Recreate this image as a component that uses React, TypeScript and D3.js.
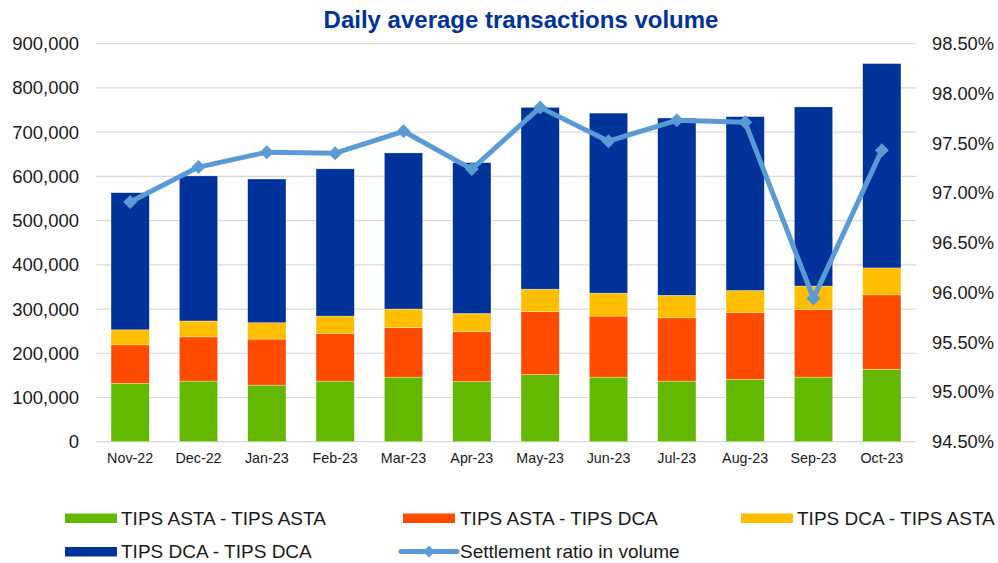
import React from "react";
import * as d3 from "d3";

const categories = ["Nov-22","Dec-22","Jan-23","Feb-23","Mar-23","Apr-23","May-23","Jun-23","Jul-23","Aug-23","Sep-23","Oct-23"];
const astaAsta = [132000,137000,128000,137000,146000,136000,152000,146000,137000,141000,146000,164000];
const astaDca = [87000,100000,104000,107000,112000,113000,142000,138000,143000,151000,153000,168000];
const dcaAsta = [34000,36000,37000,40000,42000,41000,51000,52000,51000,50000,53000,61000];
const dcaDca = [310000,328000,325000,333000,353000,341000,411000,407000,401000,393000,405000,462000];
const settlementRatio = [96.91,97.26,97.41,97.40,97.62,97.24,97.86,97.52,97.73,97.71,95.94,97.43];
const leftTicks = [0,100000,200000,300000,400000,500000,600000,700000,800000,900000];
const rightTicks = [94.5,95,95.5,96,96.5,97,97.5,98,98.5];

const seriesNames = ["TIPS ASTA - TIPS ASTA","TIPS ASTA - TIPS DCA","TIPS DCA - TIPS ASTA","TIPS DCA - TIPS DCA"];
const seriesColors = ["#65B800","#FF4B00","#FFBF00","#003399"];
const lineName = "Settlement ratio in volume";
const lineColor = "#5B9BD5";

export default function App() {
  const W = 998, H = 563;
  const x0 = 96, x1 = 916, yTop = 43.7, yBot = 441.7;
  const x = d3.scaleBand<string>().domain(categories).range([x0, x1]).paddingInner(0.44).paddingOuter(0.22);
  const yL = d3.scaleLinear().domain([0, 900000]).range([yBot, yTop]);
  const yR = d3.scaleLinear().domain([94.5, 98.5]).range([yBot, yTop]);

  const rows = categories.map((c, i) => ({ cat: c, s0: astaAsta[i], s1: astaDca[i], s2: dcaAsta[i], s3: dcaDca[i] }));
  const stack = d3.stack<any>().keys(["s0","s1","s2","s3"])(rows);

  const line = d3.line<number>()
    .x((_, i) => (x(categories[i]) as number) + x.bandwidth() / 2)
    .y(d => yR(d));

  const font = "Arial, 'Liberation Sans', sans-serif";
  const diamond = (cx: number, cy: number, r: number) => `M${cx},${cy - r}L${cx + r},${cy}L${cx},${cy + r}L${cx - r},${cy}Z`;

  const legendRow1 = 518, legendRow2 = 551.5;
  const legendItems = [
    { name: seriesNames[0], color: seriesColors[0], sx: 65, tx: 121, y: legendRow1, type: "rect" },
    { name: seriesNames[1], color: seriesColors[1], sx: 403, tx: 460, y: legendRow1, type: "rect" },
    { name: seriesNames[2], color: seriesColors[2], sx: 741, tx: 797, y: legendRow1, type: "rect" },
    { name: seriesNames[3], color: seriesColors[3], sx: 65, tx: 121, y: legendRow2, type: "rect" },
    { name: lineName, color: lineColor, sx: 401, tx: 460, y: legendRow2, type: "line" },
  ];

  return (
    <svg width={W} height={H} style={{ display: "block", position: "absolute", left: 0, top: 0 }} fontFamily={font}>
      <rect width={W} height={H} fill="#fff" />
      <text x={521} y={28} textAnchor="middle" fontSize={24} fontWeight="bold" fill="#003399">Daily average transactions volume</text>
      {leftTicks.map(t => (
        <g key={t}>
          <line x1={x0} x2={x1} y1={yL(t)} y2={yL(t)} stroke="#D9D9D9" strokeWidth={1.2} />
          <text x={79} y={yL(t)} dy="0.35em" textAnchor="end" fontSize={18.5} fill="#1a1a1a">{d3.format(",")(t)}</text>
        </g>
      ))}
      {rightTicks.map(t => (
        <text key={t} x={932} y={yR(t)} dy="0.35em" textAnchor="start" fontSize={18.3} fill="#1a1a1a">{d3.format(".2f")(t) + "%"}</text>
      ))}
      {stack.map((s, si) => (
        <g key={si} fill={seriesColors[si]}>
          {s.map((d, i) => (
            <rect key={i} x={x(categories[i])} width={x.bandwidth()} y={yL(d[1])} height={yL(d[0]) - yL(d[1])} stroke="#ffffff" strokeWidth={0.5} strokeOpacity={0.6} />
          ))}
        </g>
      ))}
      {categories.map(c => (
        <text key={c} x={(x(c) as number) + x.bandwidth() / 2} y={463} textAnchor="middle" fontSize={14.3} fill="#1a1a1a">{c}</text>
      ))}
      <path d={line(settlementRatio) || ""} fill="none" stroke={lineColor} strokeWidth={5} strokeLinejoin="round" />
      {settlementRatio.map((v, i) => (
        <path key={i} d={diamond((x(categories[i]) as number) + x.bandwidth() / 2, yR(v), 7)} fill={lineColor} />
      ))}
      {legendItems.map(l => (
        <g key={l.name}>
          {l.type === "rect" ? (
            <rect x={l.sx} y={l.y - 4.5} width={52} height={9.5} fill={l.color} />
          ) : (
            <g>
              <line x1={l.sx} x2={l.sx + 56} y1={l.y} y2={l.y} stroke={l.color} strokeWidth={5} strokeLinecap="round" />
              <path d={diamond(l.sx + 28, l.y, 6)} fill={l.color} />
            </g>
          )}
          <text x={l.tx} y={l.y} dy="0.35em" fontSize={19} fill="#1a1a1a">{l.name}</text>
        </g>
      ))}
    </svg>
  );
}
